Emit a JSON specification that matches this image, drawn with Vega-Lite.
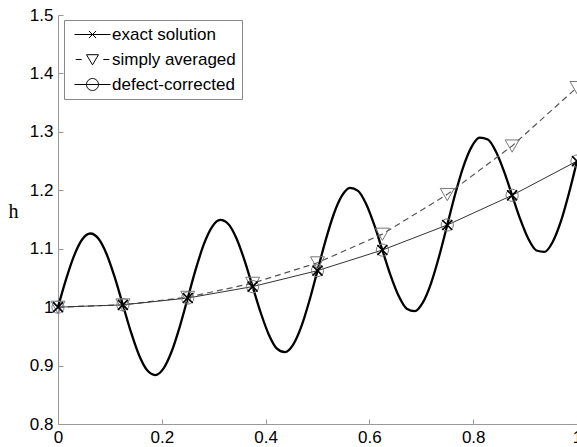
{
  "$schema": "https://vega.github.io/schema/vega-lite/v6.json",
  "width": 519,
  "height": 409,
  "autosize": {"type": "none"},
  "padding": {"left": 58, "top": 15, "right": 0, "bottom": 23},
  "background": "white",
  "config": {
    "view": {"stroke": null},
    "axis": {
      "grid": false,
      "domainColor": "#999999",
      "tickColor": "#999999",
      "tickSize": -5,
      "labelFont": "Liberation Sans",
      "labelFontSize": 17,
      "labelColor": "#000000",
      "format": "~g"
    }
  },
  "datasets": {
    "exact": [
      {"x": 0.0, "h": 1.0}, {"x": 0.015625, "h": 1.0479}, {"x": 0.03125, "h": 1.0886}, {"x": 0.046875, "h": 1.1161},
      {"x": 0.0625, "h": 1.126}, {"x": 0.078125, "h": 1.117}, {"x": 0.09375, "h": 1.0906}, {"x": 0.109375, "h": 1.0508},
      {"x": 0.125, "h": 1.0039}, {"x": 0.140625, "h": 0.9571}, {"x": 0.15625, "h": 0.9177}, {"x": 0.171875, "h": 0.8919},
      {"x": 0.1875, "h": 0.8838}, {"x": 0.203125, "h": 0.8948}, {"x": 0.21875, "h": 0.9236}, {"x": 0.234375, "h": 0.9659},
      {"x": 0.25, "h": 1.0156}, {"x": 0.265625, "h": 1.0654}, {"x": 0.28125, "h": 1.1082}, {"x": 0.296875, "h": 1.1375},
      {"x": 0.3125, "h": 1.1494}, {"x": 0.328125, "h": 1.1424}, {"x": 0.34375, "h": 1.1179}, {"x": 0.359375, "h": 1.0801},
      {"x": 0.375, "h": 1.0352}, {"x": 0.390625, "h": 0.9904}, {"x": 0.40625, "h": 0.9529}, {"x": 0.421875, "h": 0.929},
      {"x": 0.4375, "h": 0.9229}, {"x": 0.453125, "h": 0.9358}, {"x": 0.46875, "h": 0.9665}, {"x": 0.484375, "h": 1.0109},
      {"x": 0.5, "h": 1.0625}, {"x": 0.515625, "h": 1.1143}, {"x": 0.53125, "h": 1.159}, {"x": 0.546875, "h": 1.1903},
      {"x": 0.5625, "h": 1.2041}, {"x": 0.578125, "h": 1.1991}, {"x": 0.59375, "h": 1.1765}, {"x": 0.609375, "h": 1.1406},
      {"x": 0.625, "h": 1.0977}, {"x": 0.640625, "h": 1.0548}, {"x": 0.65625, "h": 1.0193}, {"x": 0.671875, "h": 0.9974},
      {"x": 0.6875, "h": 0.9932}, {"x": 0.703125, "h": 1.0081}, {"x": 0.71875, "h": 1.0408}, {"x": 0.734375, "h": 1.087},
      {"x": 0.75, "h": 1.1406}, {"x": 0.765625, "h": 1.1944}, {"x": 0.78125, "h": 1.241}, {"x": 0.796875, "h": 1.2743},
      {"x": 0.8125, "h": 1.29}, {"x": 0.828125, "h": 1.287}, {"x": 0.84375, "h": 1.2664}, {"x": 0.859375, "h": 1.2324},
      {"x": 0.875, "h": 1.1914}, {"x": 0.890625, "h": 1.1505}, {"x": 0.90625, "h": 1.1169}, {"x": 0.921875, "h": 1.097},
      {"x": 0.9375, "h": 1.0947}, {"x": 0.953125, "h": 1.1116}, {"x": 0.96875, "h": 1.1462}, {"x": 0.984375, "h": 1.1945},
      {"x": 1.0, "h": 1.25}
    ],
    "nodes": [
      {"series": "exact solution", "x": 0.0, "h": 1.0},
      {"series": "exact solution", "x": 0.125, "h": 1.0039},
      {"series": "exact solution", "x": 0.25, "h": 1.0156},
      {"series": "exact solution", "x": 0.375, "h": 1.0352},
      {"series": "exact solution", "x": 0.5, "h": 1.0625},
      {"series": "exact solution", "x": 0.625, "h": 1.0977},
      {"series": "exact solution", "x": 0.75, "h": 1.1406},
      {"series": "exact solution", "x": 0.875, "h": 1.1914},
      {"series": "exact solution", "x": 1.0, "h": 1.25},
      {"series": "simply averaged", "x": 0.0, "h": 1.0},
      {"series": "simply averaged", "x": 0.125, "h": 1.004},
      {"series": "simply averaged", "x": 0.25, "h": 1.017},
      {"series": "simply averaged", "x": 0.375, "h": 1.041},
      {"series": "simply averaged", "x": 0.5, "h": 1.076},
      {"series": "simply averaged", "x": 0.625, "h": 1.125},
      {"series": "simply averaged", "x": 0.75, "h": 1.193},
      {"series": "simply averaged", "x": 0.875, "h": 1.276},
      {"series": "simply averaged", "x": 1.0, "h": 1.376},
      {"series": "defect-corrected", "x": 0.0, "h": 1.0},
      {"series": "defect-corrected", "x": 0.125, "h": 1.0039},
      {"series": "defect-corrected", "x": 0.25, "h": 1.0156},
      {"series": "defect-corrected", "x": 0.375, "h": 1.0352},
      {"series": "defect-corrected", "x": 0.5, "h": 1.0625},
      {"series": "defect-corrected", "x": 0.625, "h": 1.0977},
      {"series": "defect-corrected", "x": 0.75, "h": 1.1406},
      {"series": "defect-corrected", "x": 0.875, "h": 1.1914},
      {"series": "defect-corrected", "x": 1.0, "h": 1.25}
    ]
  },
  "encoding": {
    "x": {
      "field": "x", "type": "quantitative",
      "scale": {"domain": [0, 1], "nice": false, "zero": false},
      "axis": {"title": null, "values": [0, 0.2, 0.4, 0.6, 0.8, 1], "labelPadding": 10, "labelFlush": false}
    },
    "y": {
      "field": "h", "type": "quantitative",
      "scale": {"domain": [0.8, 1.5], "nice": false, "zero": false},
      "axis": {
        "title": "h", "titleAngle": 0, "titleFont": "Liberation Serif", "titleFontSize": 20,
        "titleFontWeight": "normal", "titleColor": "#000000",
        "titleX": -45, "titleY": 196, "titleAlign": "center", "titleBaseline": "middle",
        "values": [0.8, 0.9, 1, 1.1, 1.2, 1.3, 1.4, 1.5], "labelPadding": 10
      }
    }
  },
  "layer": [
    {
      "data": {"name": "exact"},
      "mark": {"type": "line", "color": "#000000", "strokeWidth": 2.3, "interpolate": "monotone"}
    },
    {
      "data": {"name": "nodes"},
      "transform": [{"filter": "datum.series == 'simply averaged'"}],
      "mark": {"type": "line", "color": "#555555", "strokeWidth": 1.2, "strokeDash": [6, 4]}
    },
    {
      "data": {"name": "nodes"},
      "transform": [{"filter": "datum.series == 'defect-corrected'"}],
      "mark": {"type": "line", "color": "#333333", "strokeWidth": 1}
    },
    {
      "data": {"name": "nodes"},
      "transform": [{"filter": "datum.series == 'simply averaged'"}],
      "mark": {"type": "point", "shape": "M-1,-0.85L1,-0.85L0,0.9Z", "size": 196, "filled": false, "color": "#777777", "strokeWidth": 1, "opacity": 1}
    },
    {
      "data": {"name": "nodes"},
      "transform": [{"filter": "datum.series == 'defect-corrected'"}],
      "mark": {"type": "point", "shape": "circle", "size": 150, "filled": false, "color": "#777777", "strokeWidth": 1, "opacity": 1}
    },
    {
      "data": {"name": "nodes"},
      "transform": [{"filter": "datum.series == 'exact solution'"}],
      "mark": {"type": "point", "shape": "M-1,-1L1,1M-1,1L1,-1", "size": 100, "filled": false, "color": "#000000", "strokeWidth": 1.6, "opacity": 1}
    },
    {
      "data": {"name": "nodes"},
      "mark": {"type": "point", "filled": false, "color": "#000000", "opacity": 0},
      "encoding": {
        "shape": {
          "field": "series", "type": "nominal",
          "scale": {
            "domain": ["exact solution", "simply averaged", "defect-corrected"],
            "range": [
              "M-3,0H3M-0.6,-0.6L0.6,0.6M-0.6,0.6L0.6,-0.6",
              "M-2.8,0H-1.8M1.8,0H2.8M-1,-0.8L1,-0.8L0,0.9Z",
              "M-3,0H3M-1,0A1,1 0 1,0 1,0A1,1 0 1,0 -1,0"
            ]
          },
          "legend": {
            "title": null,
            "orient": "none",
            "legendX": 6,
            "legendY": 5,
            "padding": 6,
            "strokeColor": "#888888",
            "fillColor": "#ffffff",
            "symbolSize": 144,
            "symbolOpacity": 1,
            "symbolFillColor": "transparent",
            "symbolStrokeColor": "#000000",
            "symbolStrokeWidth": 1,
            "symbolOffset": 14,
            "labelOffset": 11,
            "labelFont": "Liberation Sans",
            "labelFontSize": 17,
            "labelColor": "#000000",
            "rowPadding": 7,
            "encode": {
              "symbols": {
                "update": {
                  "stroke": {"signal": "datum.value == 'exact solution' ? '#000000' : '#555555'"},
                  "strokeWidth": {"signal": "datum.value == 'exact solution' ? 1.8 : 1"},
                  "opacity": {"value": 1}
                }
              }
            }
          }
        }
      }
    }
  ]
}
